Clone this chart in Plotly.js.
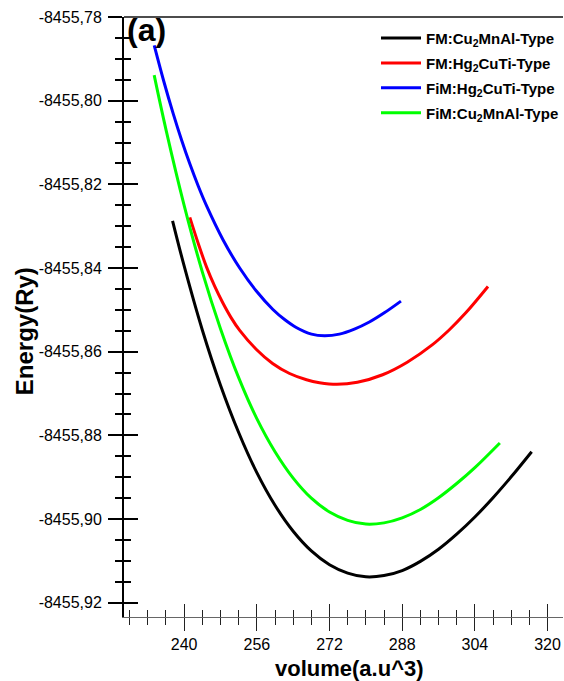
<!DOCTYPE html>
<html>
<head>
<meta charset="utf-8">
<script src="https://cdn.plot.ly/plotly-3.0.1.min.js"></script>
<style>
html,body{margin:0;padding:0;background:#fff;}
#chart{width:564px;height:681px;}
</style>
</head>
<body>
<div id="chart"></div>
<script>
// ---- data ----
const seriesNames = [
  "FM:Cu<sub>2</sub>MnAl-Type",
  "FM:Hg<sub>2</sub>CuTi-Type",
  "FiM:Hg<sub>2</sub>CuTi-Type",
  "FiM:Cu<sub>2</sub>MnAl-Type"
];
const seriesColors = ["#000000", "#ff0000", "#0000ff", "#00ff00"];

const volFMCu2MnAl = [237.45, 240, 244, 248, 252, 256, 260, 264, 268, 272, 276, 280, 284, 288, 292, 296, 300, 304, 308, 312, 316.5];
const eFMCu2MnAl   = [-8455.8287, -8455.8395, -8455.8548, -8455.8680, -8455.8793, -8455.8889, -8455.8967, -8455.9029, -8455.9076, -8455.9109, -8455.9129, -8455.9138, -8455.9135, -8455.9123, -8455.9101, -8455.9072, -8455.9036, -8455.8995, -8455.8949, -8455.8899, -8455.8839];

const volFMHg2CuTi = [241.25, 243.12, 244.98, 246.74, 248.50, 250.36, 252.23, 255.85, 259.47, 263.21, 266.94, 269.79, 273.63, 278.13, 283.69, 289.11, 294.67, 298.33, 302.0, 306.89];
const eFMHg2CuTi   = [-8455.8279, -8455.8342, -8455.8399, -8455.8444, -8455.8483, -8455.8519, -8455.8549, -8455.8594, -8455.8628, -8455.8652, -8455.8667, -8455.8674, -8455.8678, -8455.8673, -8455.8655, -8455.8625, -8455.8583, -8455.8548, -8455.8507, -8455.8444];

const volFiMHg2CuTi = [233.41, 235.50, 237.59, 239.43, 241.25, 243.10, 244.92, 248.58, 252.23, 255.89, 259.54, 262.11, 264.68, 268.04, 270.89, 274.18, 277.48, 280.77, 284.06, 287.73];
const eFiMHg2CuTi   = [-8455.7868, -8455.7953, -8455.8031, -8455.8094, -8455.8151, -8455.8204, -8455.8251, -8455.8333, -8455.8400, -8455.8455, -8455.8499, -8455.8523, -8455.8542, -8455.8558, -8455.8562, -8455.8558, -8455.8546, -8455.8529, -8455.8507, -8455.8479];

const volFiMCu2MnAl = [233.4, 236, 240, 244, 248, 252, 256, 260, 264, 268, 272, 276, 280, 284, 288, 292, 296, 300, 304, 309.5];
const eFiMCu2MnAl   = [-8455.7939, -8455.8069, -8455.8250, -8455.8409, -8455.8545, -8455.8662, -8455.8760, -8455.8839, -8455.8902, -8455.8950, -8455.8983, -8455.9003, -8455.9012, -8455.9009, -8455.8997, -8455.8977, -8455.8949, -8455.8915, -8455.8877, -8455.8818];

const yTickVals = [-8455.92, -8455.90, -8455.88, -8455.86, -8455.84, -8455.82, -8455.80, -8455.78];
const yTickText = ["-8455,92", "-8455,90", "-8455,88", "-8455,86", "-8455,84", "-8455,82", "-8455,80", "-8455,78"];
const xTickVals = [240, 256, 272, 288, 304, 320];
const xTickText = ["240", "256", "272", "288", "304", "320"];

const chartTitle = "(a)";
const xTitle = "volume(a.u^3)";
const yTitle = "Energy(Ry)";

// ---- build ----
const FONT = "Liberation Sans, Arial, sans-serif";
const xs = [volFMCu2MnAl, volFMHg2CuTi, volFiMHg2CuTi, volFiMCu2MnAl];
const ys = [eFMCu2MnAl, eFMHg2CuTi, eFiMHg2CuTi, eFiMCu2MnAl];

const traces = xs.map((x, i) => ({
  type: "scatter", mode: "lines",
  x: x, y: ys[i], name: seriesNames[i],
  legendgroup: "g" + i,
  line: {color: seriesColors[i], width: 3, shape: "spline", smoothing: 1}
}));
// empty trace to carry the overlay axes (inner half of the crossing ticks)
traces.push({type: "scatter", mode: "lines", x: [], y: [], xaxis: "x2", yaxis: "y2", showlegend: false, hoverinfo: "skip"});

const XR = [226.76, 323.4];
const YR = [-8455.9234, -8455.78];

const layout = {
  width: 564, height: 681,
  margin: {l: 124, r: 0, t: 17, b: 64, pad: 0},
  paper_bgcolor: "#fff", plot_bgcolor: "#fff",
  showlegend: true,
  title: {text: chartTitle, font: {family: FONT, size: 32, weight: "bold", color: "#000"},
          xref: "container", yref: "container", x: 127/564, xanchor: "left", y: 1 - 30/681, yanchor: "middle"},
  legend: {x: 0.5745, xanchor: "left", y: 0.992, yanchor: "top", bgcolor: "rgba(0,0,0,0)",
           font: {family: FONT, size: 15, weight: "bold", color: "#000"}, itemwidth: 40, tracegroupgap: 2.4, traceorder: "grouped"},
  xaxis: {
    range: XR, showgrid: false, zeroline: false,
    showline: true, linecolor: "#666", linewidth: 1,
    tickmode: "array", tickvals: xTickVals, ticktext: xTickText,
    ticks: "outside", ticklen: 13, tickwidth: 1, tickcolor: "#222",
    ticklabelstandoff: 0,
    minor: {tickmode: "linear", tick0: 228, dtick: 4, ticks: "outside", ticklen: 7, tickwidth: 1, tickcolor: "#222", showgrid: false},
    tickfont: {family: FONT, size: 16, color: "#000"}
  },
  xaxis2: {
    overlaying: "x", anchor: "y", side: "bottom", range: XR,
    showgrid: false, zeroline: false, showline: false, showticklabels: false,
    tickmode: "array", tickvals: xTickVals,
    ticks: "inside", ticklen: 13, tickwidth: 1, tickcolor: "#222",
    minor: {tickmode: "linear", tick0: 228, dtick: 4, ticks: "inside", ticklen: 7, tickwidth: 1, tickcolor: "#222", showgrid: false}
  },
  yaxis: {
    range: YR, showgrid: false, zeroline: false,
    showline: true, linecolor: "#000", linewidth: 2,
    tickmode: "array", tickvals: yTickVals, ticktext: yTickText,
    ticks: "outside", ticklen: 14, tickwidth: 2, tickcolor: "#000",
    ticklabelstandoff: 3,
    minor: {tickmode: "linear", tick0: -8455.78, dtick: 0.005, ticks: "outside", ticklen: 7, tickwidth: 2, tickcolor: "#000", showgrid: false},
    tickfont: {family: FONT, size: 16, color: "#000"}
  },
  yaxis2: {
    overlaying: "y", anchor: "x", side: "left", range: YR,
    showgrid: false, zeroline: false, showline: false, showticklabels: false,
    tickmode: "array", tickvals: yTickVals,
    ticks: "inside", ticklen: 14, tickwidth: 2, tickcolor: "#000",
    minor: {tickmode: "linear", tick0: -8455.78, dtick: 0.005, ticks: "inside", ticklen: 7, tickwidth: 2, tickcolor: "#000", showgrid: false}
  },
  annotations: [
    {text: xTitle, xref: "paper", yref: "paper", x: (350 - 124) / 440, y: (617 - 668) / 600,
     xanchor: "center", yanchor: "middle", showarrow: false,
     font: {family: FONT, size: 22, weight: "bold", color: "#000"}},
    {text: yTitle, xref: "paper", yref: "paper", x: (24 - 124) / 440, y: (617 - 331) / 600,
     xanchor: "center", yanchor: "middle", showarrow: false, textangle: -90,
     font: {family: FONT, size: 24, weight: "bold", color: "#000"}}
  ],
  shapes: [
    {type: "line", xref: "paper", yref: "paper", x0: 0, x1: 1, y0: 1, y1: 1, line: {color: "#111", width: 1.5}}
  ]
};

Plotly.newPlot("chart", traces, layout, {displayModeBar: false, staticPlot: true});
</script>
</body>
</html>
